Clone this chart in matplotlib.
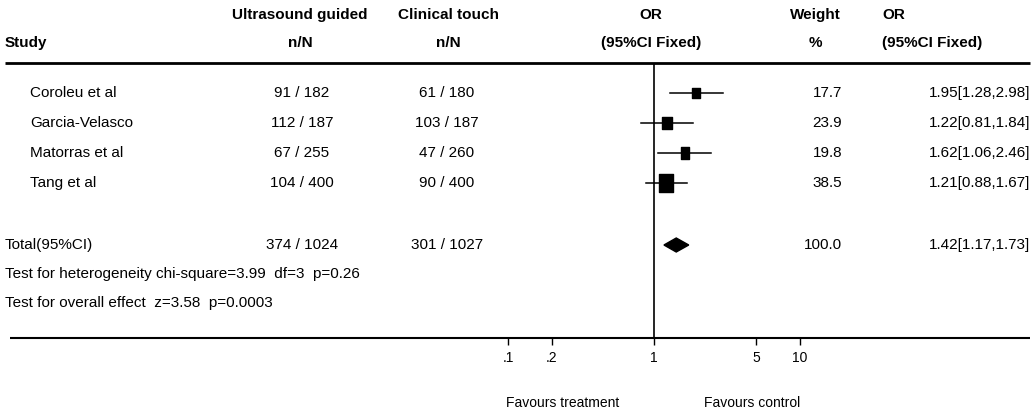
import matplotlib.pyplot as plt
from matplotlib.patches import Polygon
from matplotlib.path import Path

plt.rcParams['font.family'] = ['Liberation Sans Narrow', 'Liberation Sans', 'DejaVu Sans']

# data
studies = ['Coroleu et al', 'Garcia-Velasco', 'Matorras et al', 'Tang et al']
us_n = [91, 112, 67, 104]
us_N = [182, 187, 255, 400]
ct_n = [61, 103, 47, 90]
ct_N = [180, 187, 260, 400]
odds = [1.95, 1.22, 1.62, 1.21]
lo = [1.28, 0.81, 1.06, 0.88]
hi = [2.98, 1.84, 2.46, 1.67]
weight = [17.7, 23.9, 19.8, 38.5]
tot_us = (374, 1024)
tot_ct = (301, 1027)
tot_weight = 100.0
tot_or, tot_lo, tot_hi = 1.42, 1.17, 1.73
het_text = 'Test for heterogeneity chi-square=3.99  df=3  p=0.26'
eff_text = 'Test for overall effect  z=3.58  p=0.0003'
tick_vals = [0.1, 0.2, 1, 5, 10]
tick_labels = ['.1', '.2', '1', '5', '10']

W, H = 1035, 415
fig = plt.figure(figsize=(W / 100, H / 100), dpi=100)

# text layer in pixel coordinates
tx = fig.add_axes([0, 0, 1, 1])
tx.set_xlim(0, W)
tx.set_ylim(H, 0)
tx.axis('off')

# forest axes: log scale, 1 at x=654, 146 px per decade
top, bot = 63, 338
x0, x1 = 654 - 292, 654 + 292
ax = fig.add_axes([x0 / W, 1 - bot / H, (x1 - x0) / W, (bot - top) / H])
ax.set_xscale('log')
ax.set_xlim(0.01, 100)
ax.set_ylim(bot, top)
ax.patch.set_alpha(0)
for s in ax.spines.values():
    s.set_visible(False)
ax.set_yticks([])
ax.set_xticks(tick_vals)
ax.set_xticklabels(tick_labels)
ax.minorticks_off()
ax.tick_params(axis='x', direction='out', length=5, width=1, pad=4, labelsize=10)

row_y = [93, 123, 153, 183]
tot_y = 245

# slightly tall box marker
box = Path([(-0.72, -1), (0.72, -1), (0.72, 1), (-0.72, 1), (-0.72, -1)],
           [Path.MOVETO, Path.LINETO, Path.LINETO, Path.LINETO, Path.CLOSEPOLY])

ax.axvline(1, color='black', lw=1.2)
for i in range(len(studies)):
    ax.plot([lo[i], hi[i]], [row_y[i], row_y[i]], color='black', lw=1.1)
    ax.plot(odds[i], row_y[i], marker=box, color='black', ms=weight[i] * 0.3 + 2, lw=0)

dh = 7
ax.add_patch(Polygon([(tot_lo, tot_y), (tot_or, tot_y - dh), (tot_hi, tot_y),
                      (tot_or, tot_y + dh)], closed=True, color='black'))

# rules
tx.hlines(63, 5, 1030, color='black', lw=2)
tx.hlines(338, 10, 1030, color='black', lw=1.5)

fs = 11
hb = dict(fontsize=11, fontweight='bold', va='center')
tx.text(5, 43, 'Study', ha='left', **hb)
tx.text(300, 15, 'Ultrasound guided', ha='center', **hb)
tx.text(300, 43, 'n/N', ha='center', **hb)
tx.text(448, 15, 'Clinical touch', ha='center', **hb)
tx.text(448, 43, 'n/N', ha='center', **hb)
tx.text(651, 15, 'OR', ha='center', **hb)
tx.text(651, 43, '(95%CI Fixed)', ha='center', **hb)
tx.text(815, 15, 'Weight', ha='center', **hb)
tx.text(815, 43, '%', ha='center', **hb)
tx.text(882, 15, 'OR', ha='left', **hb)
tx.text(882, 43, '(95%CI Fixed)', ha='left', **hb)

for i, name in enumerate(studies):
    y = row_y[i]
    tx.text(30, y, name, ha='left', va='center', fontsize=fs)
    tx.text(302, y, f'{us_n[i]} / {us_N[i]}', ha='center', va='center', fontsize=fs)
    tx.text(447, y, f'{ct_n[i]} / {ct_N[i]}', ha='center', va='center', fontsize=fs)
    tx.text(842, y, f'{weight[i]:.1f}', ha='right', va='center', fontsize=fs)
    tx.text(1030, y, f'{odds[i]:.2f}[{lo[i]:.2f},{hi[i]:.2f}]', ha='right', va='center', fontsize=fs)

tx.text(5, tot_y, 'Total(95%CI)', ha='left', va='center', fontsize=fs)
tx.text(302, tot_y, f'{tot_us[0]} / {tot_us[1]}', ha='center', va='center', fontsize=fs)
tx.text(447, tot_y, f'{tot_ct[0]} / {tot_ct[1]}', ha='center', va='center', fontsize=fs)
tx.text(842, tot_y, f'{tot_weight:.1f}', ha='right', va='center', fontsize=fs)
tx.text(1030, tot_y, f'{tot_or:.2f}[{tot_lo:.2f},{tot_hi:.2f}]', ha='right', va='center', fontsize=fs)
tx.text(5, 274, het_text, ha='left', va='center', fontsize=fs)
tx.text(5, 303, eff_text, ha='left', va='center', fontsize=fs)

tx.text(563, 403, 'Favours treatment', ha='center', va='center', fontsize=10)
tx.text(752, 403, 'Favours control', ha='center', va='center', fontsize=10)

fig.savefig('out.png', dpi=100)
